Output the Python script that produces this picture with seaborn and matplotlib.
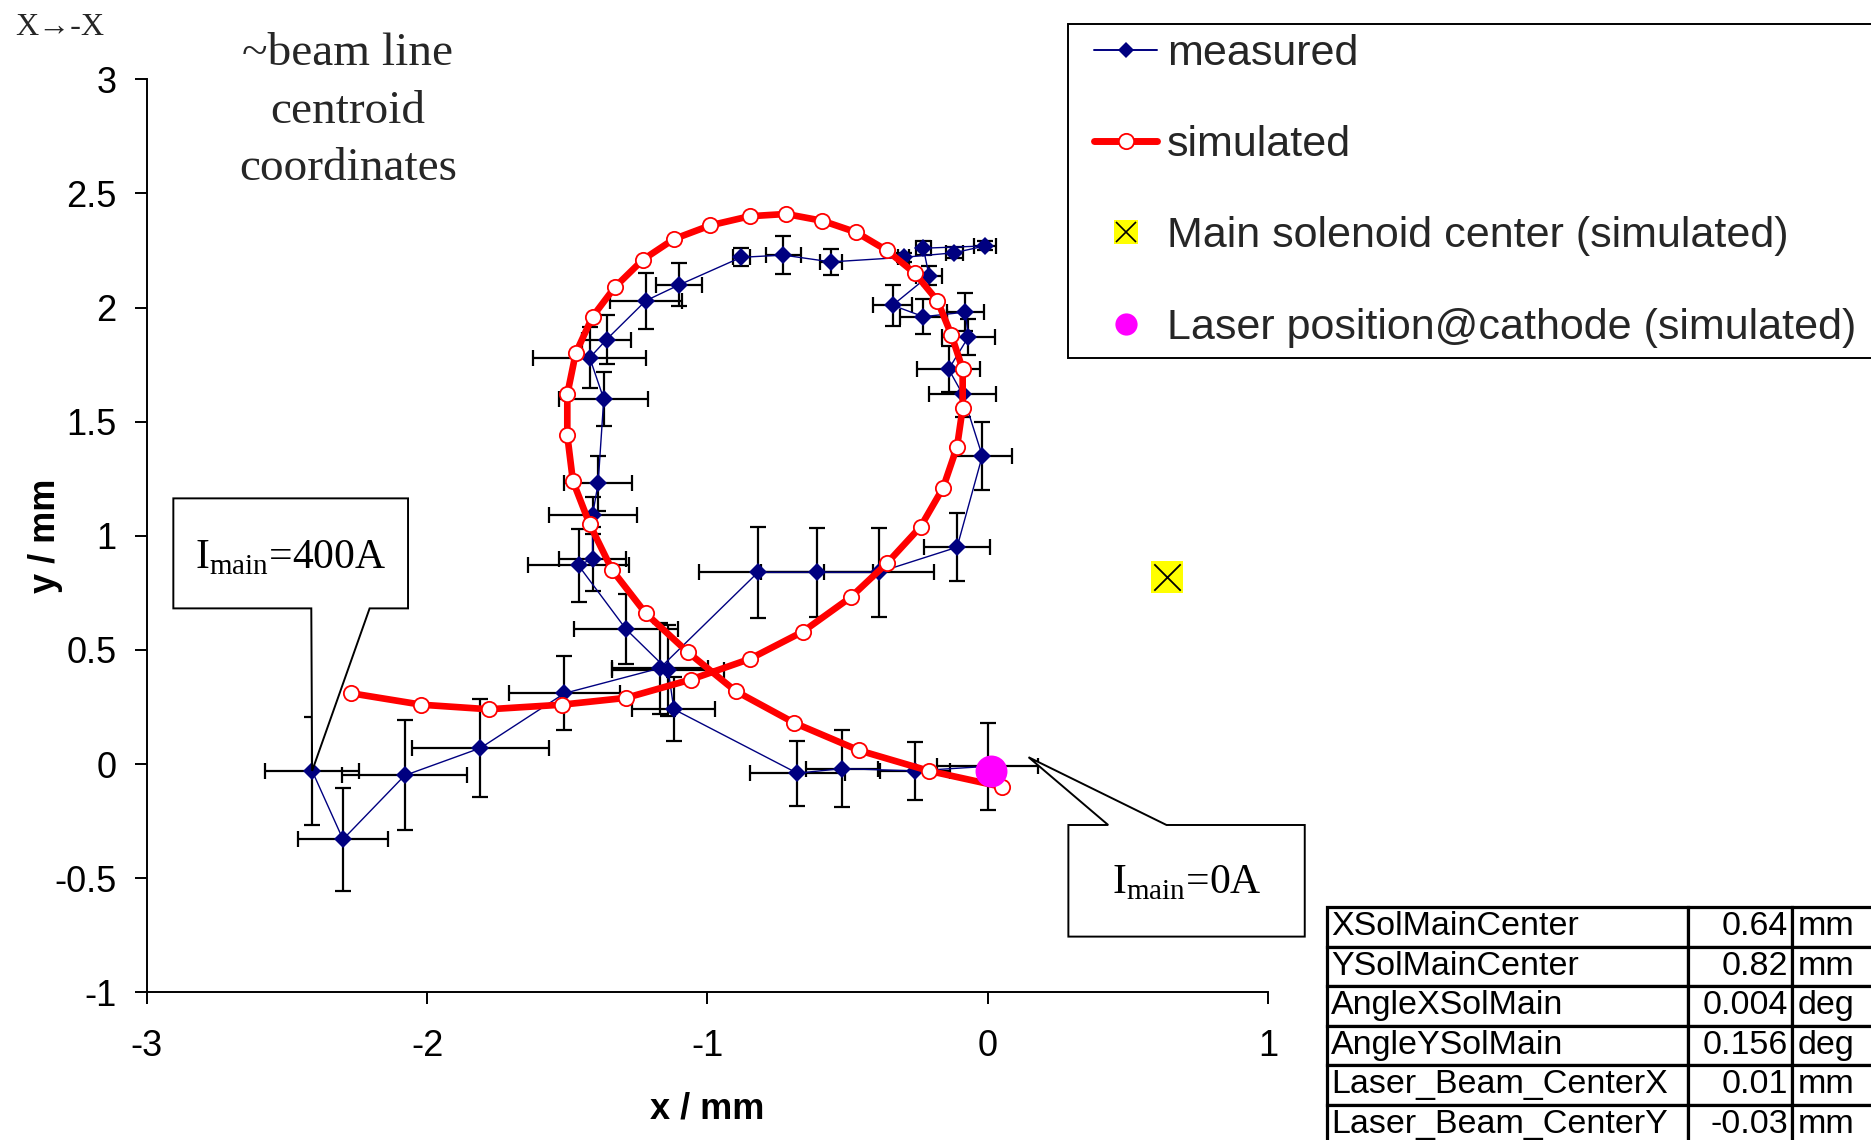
import numpy as np
import pandas as pd
import matplotlib
matplotlib.use("Agg")
import matplotlib.pyplot as plt
import matplotlib.patches as mpatches
from matplotlib.lines import Line2D
import seaborn as sns

# ── Data ───────────────────────────────────────────────────────────────────────
# measured beam centroid (I_main 400A -> 0A)
meas_x = [-2.41, -2.30, -2.08, -1.81, -1.51, -1.17, -0.82, -0.61, -0.39, -0.11,
          -0.02, -0.09, -0.14, -0.07, -0.08, -0.23, -0.34, -0.21, -0.23, -0.01,
          -0.12, -0.30, -0.56, -0.73, -0.88, -1.10, -1.22, -1.36, -1.42, -1.37,
          -1.39, -1.41, -1.41, -1.46, -1.29, -1.14, -1.12, -0.68, -0.52, -0.26,
          0.00]
meas_y = [-0.03, -0.33, -0.05, 0.07, 0.31, 0.42, 0.84, 0.84, 0.84, 0.95,
          1.35, 1.62, 1.73, 1.87, 1.98, 1.96, 2.01, 2.14, 2.26, 2.27,
          2.24, 2.22, 2.20, 2.23, 2.22, 2.10, 2.03, 1.86, 1.78, 1.60,
          1.23, 1.09, 0.90, 0.87, 0.59, 0.41, 0.24, -0.04, -0.02, -0.03,
          -0.01]
meas_xerr = [0.167, 0.159, 0.223, 0.245, 0.197, 0.172, 0.21, 0.20, 0.196, 0.119,
             0.107, 0.119, 0.113, 0.095, 0.065, 0.083, 0.068, 0.045, 0.027, 0.04,
             0.03, 0.02, 0.04, 0.062, 0.03, 0.082, 0.128, 0.086, 0.202, 0.159,
             0.12, 0.157, 0.119, 0.18, 0.186, 0.20, 0.148, 0.17, 0.128, 0.125,
             0.18]
meas_yerr = [0.237, 0.226, 0.241, 0.213, 0.162, 0.20, 0.20, 0.196, 0.194, 0.148,
             0.148, 0.10, 0.10, 0.08, 0.083, 0.077, 0.09, 0.04, 0.03, 0.02,
             0.025, 0.02, 0.057, 0.085, 0.04, 0.095, 0.122, 0.106, 0.134, 0.117,
             0.12, 0.08, 0.14, 0.16, 0.153, 0.20, 0.14, 0.142, 0.17, 0.126,
             0.19]

# simulated centroid
sim_x = [-2.27, -2.02, -1.78, -1.52, -1.29, -1.06, -0.85, -0.66, -0.49, -0.36,
         -0.24, -0.16, -0.11, -0.09, -0.09, -0.13, -0.18, -0.26, -0.36, -0.47,
         -0.59, -0.72, -0.85, -0.99, -1.12, -1.23, -1.33, -1.41, -1.47, -1.50,
         -1.50, -1.48, -1.42, -1.34, -1.22, -1.07, -0.90, -0.69, -0.46, -0.21,
         0.05]
sim_y = [0.31, 0.26, 0.24, 0.26, 0.29, 0.37, 0.46, 0.58, 0.73, 0.88,
         1.04, 1.21, 1.39, 1.56, 1.73, 1.88, 2.03, 2.15, 2.25, 2.33,
         2.38, 2.41, 2.40, 2.36, 2.30, 2.21, 2.09, 1.96, 1.80, 1.62,
         1.44, 1.24, 1.05, 0.85, 0.66, 0.49, 0.32, 0.18, 0.06, -0.03,
         -0.10]

sol_center = (0.64, 0.82)
laser_pos = (0.01, -0.03)

param_names = ["XSolMainCenter", "YSolMainCenter", "AngleXSolMain",
               "AngleYSolMain", "Laser_Beam_CenterX", "Laser_Beam_CenterY"]
param_values = ["0.64", "0.82", "0.004", "0.156", "0.01", "-0.03"]
param_units = ["mm", "mm", "deg", "deg", "mm", "mm"]

x_ticks = [-3, -2, -1, 0, 1]
y_ticks = [-1, -0.5, 0, 0.5, 1, 1.5, 2, 2.5, 3]

# ── Style ──────────────────────────────────────────────────────────────────────
NAVY = "#000080"
RED = "#FF0000"
sns.set_theme(style="ticks")
plt.rcParams["font.family"] = ["Liberation Sans", "DejaVu Sans"]
plt.rcParams["axes.unicode_minus"] = False
plt.rcParams["mathtext.fontset"] = "custom"
plt.rcParams["mathtext.rm"] = "Liberation Serif"
SERIF = ["Liberation Serif", "DejaVu Serif"]

W, H = 1871, 1140
fig = plt.figure(figsize=(W / 100, H / 100), dpi=100)
fig.patch.set_facecolor("white")
ax = fig.add_axes([146.7 / W, 1 - 992.3 / H, 1121.6 / W, 913 / H])

df_meas = pd.DataFrame({"x": meas_x, "y": meas_y})
df_sim = pd.DataFrame({"x": sim_x, "y": sim_y})

# error bars + measured
ax.errorbar(meas_x, meas_y, xerr=meas_xerr, yerr=meas_yerr, fmt="none",
            ecolor="black", elinewidth=1.6, capsize=5.5, capthick=1.6, zorder=1)
sns.lineplot(data=df_meas, x="x", y="y", sort=False, estimator=None,
             color=NAVY, lw=1.0, marker="D", markersize=9.5,
             markeredgewidth=0, ax=ax, zorder=2)

# simulated
sns.lineplot(data=df_sim, x="x", y="y", sort=False, estimator=None,
             color=RED, lw=4.8, marker="o", markersize=11,
             markerfacecolor="white", markeredgecolor=RED,
             markeredgewidth=1.3, ax=ax, zorder=3)

# solenoid centre + laser position
sns.scatterplot(x=[sol_center[0]], y=[sol_center[1]], marker="s", s=23.5 ** 2,
                color="#FFFF00", linewidth=0, ax=ax, zorder=4)
sns.scatterplot(x=[sol_center[0]], y=[sol_center[1]], marker="x", s=19 ** 2,
                color="black", linewidth=1.3, ax=ax, zorder=5)
sns.scatterplot(x=[laser_pos[0]], y=[laser_pos[1]], marker="o", s=23 ** 2,
                color="#FF00FF", linewidth=0, ax=ax, zorder=5)

# ── Axes ───────────────────────────────────────────────────────────────────────
ax.set_xlim(-3, 1)
ax.set_ylim(-1, 3)
ax.set_xticks(x_ticks)
ax.set_yticks(y_ticks)
ax.set_xticklabels([f"{v:g}" for v in x_ticks])
ax.set_yticklabels([f"{v:g}" for v in y_ticks])
for side in ["top", "right"]:
    ax.spines[side].set_visible(False)
for side in ["left", "bottom"]:
    ax.spines[side].set_linewidth(1.4)
    ax.spines[side].set_color("black")
ax.tick_params(axis="both", direction="out", length=8.5, width=1.4,
               color="black", labelsize=26, labelcolor="black")
ax.tick_params(axis="y", pad=13)
ax.tick_params(axis="x", pad=18)
ax.set_xlabel("x / mm", fontsize=26, fontweight="bold", color="black")
ax.set_ylabel("y / mm", fontsize=26, fontweight="bold", color="black")
ax.xaxis.set_label_coords(0.5, -0.109)
ax.yaxis.set_label_coords(-0.0746, 0.50)
ax.set_facecolor("white")

# ── Callouts ───────────────────────────────────────────────────────────────────
box400 = [(-2.905, 1.164), (-2.068, 1.164), (-2.068, 0.682), (-2.205, 0.682),
          (-2.41, -0.03), (-2.413, 0.682), (-2.905, 0.682)]
box0 = [(0.287, -0.267), (0.429, -0.267), (0.145, 0.03), (0.637, -0.267),
        (1.130, -0.267), (1.130, -0.756), (0.287, -0.756)]
for pts in (box400, box0):
    ax.add_patch(mpatches.Polygon(pts, closed=True, facecolor="white",
                                  edgecolor="black", lw=1.4, zorder=6,
                                  clip_on=False))
ax.text(-2.486, 0.905, r"I$_\mathrm{main}$=400A", family=SERIF, fontsize=30,
        ha="center", va="center", zorder=7, color="black")
ax.text(0.708, -0.52, r"I$_\mathrm{main}$=0A", family=SERIF, fontsize=30,
        ha="center", va="center", zorder=7, color="black", clip_on=False)

# ── Free text ──────────────────────────────────────────────────────────────────
fig.text(15 / W, 1 - 35 / H, "X\u2192-X", family=SERIF, fontsize=23,
         ha="left", va="baseline")
for txt, base in [("~beam line", 65), ("centroid", 123), ("coordinates", 180)]:
    fig.text(348 / W, 1 - base / H, txt, family=SERIF, fontsize=34,
             ha="center", va="baseline")

# ── Legend (frame drawn separately) ────────────────────────────────────────────
fig.add_artist(mpatches.Rectangle((1068 / W, 1 - 358 / H), 830 / W, 334 / H,
                                  transform=fig.transFigure, facecolor="white",
                                  edgecolor="black", lw=1.4, zorder=1))
h_meas = Line2D([], [], color=NAVY, lw=1.4, marker="D", ms=8, mew=0)
h_sim = Line2D([], [], color=RED, lw=5, marker="o", ms=11, mfc="white",
               mec=RED, mew=1.3)
h_sol = (Line2D([], [], lw=0, marker="s", ms=17, color="#FFFF00", mew=0),
         Line2D([], [], lw=0, marker="x", ms=14, color="black", mew=1.2))
h_las = Line2D([], [], lw=0, marker="o", ms=16, color="#FF00FF", mew=0)
leg = fig.legend(
    [h_meas, h_sim, h_sol, h_las],
    ["measured", "simulated", "Main solenoid center (simulated)",
     "Laser position@cathode (simulated)"],
    loc="upper left", bbox_to_anchor=(1094 / W, 1 - 34 / H),
    frameon=False, borderpad=0, labelspacing=1.19, handlelength=1.47,
    handletextpad=0.23, borderaxespad=0,
    prop={"family": "Liberation Sans", "size": 31},
)
leg.set_zorder(2)

# ── Parameter table ────────────────────────────────────────────────────────────
ax_tab = fig.add_axes([1327 / W, -4 / H, 570 / W, 237 / H])
ax_tab.axis("off")
rows = [[n, v, u] for n, v, u in zip(param_names, param_values, param_units)]
cw = np.array([361, 104, 105]) / 570
tab = ax_tab.table(cellText=rows, colWidths=list(cw), cellLoc="left",
                   bbox=[0, 0, 1, 1])
tab.auto_set_font_size(False)
tab.set_fontsize(24.5)
for (r, c), cell in tab.get_celld().items():
    cell.set_linewidth(2.3)
    cell.set_edgecolor("black")
    cell.get_text().set_color("black")
    if c == 0:
        cell.PAD = 0.012
    elif c == 1:
        cell._loc = "right"
        cell.get_text().set_ha("right")
        cell.PAD = 0.04
    else:
        cell.PAD = 0.05

fig.savefig("out.png", dpi=100, facecolor="white")
